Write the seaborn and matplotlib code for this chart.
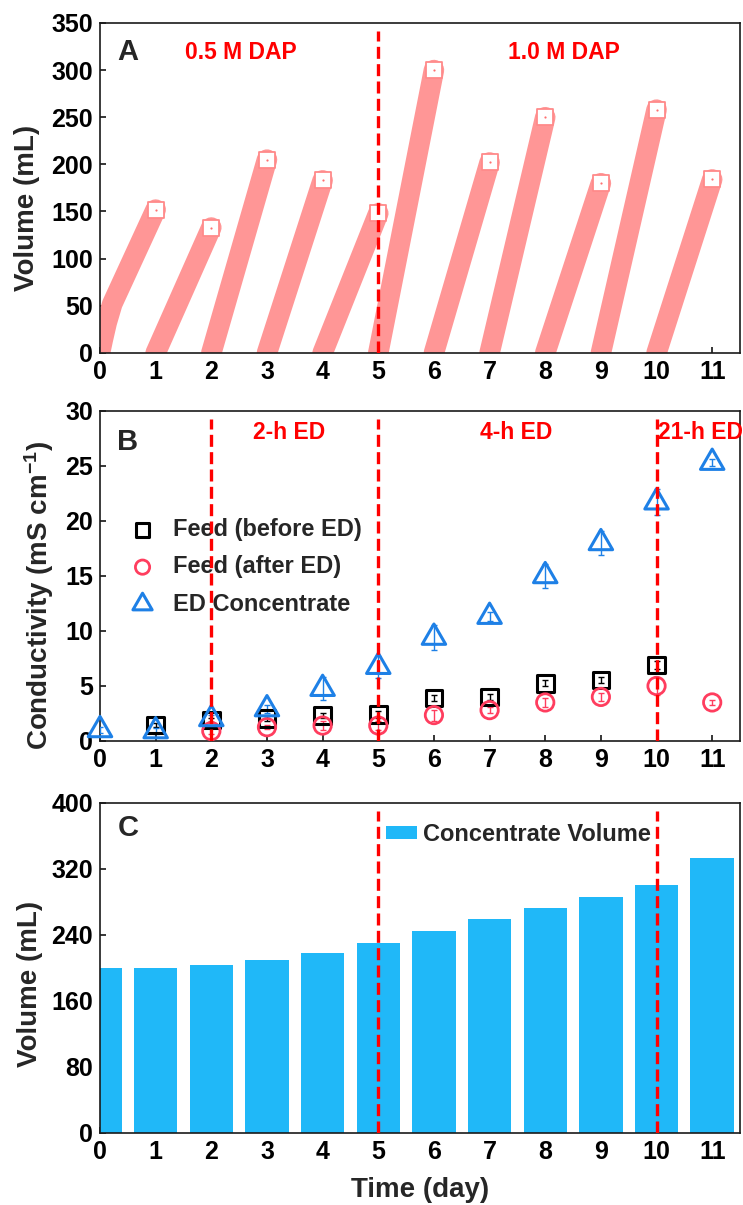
import numpy as np
import pandas as pd
import matplotlib
matplotlib.use("Agg")
import matplotlib.pyplot as plt
import seaborn as sns

# ---------------- data ----------------
days = list(range(12))

# A: feed volume, one filling cycle per day (start at 0 mL, end at the peak)
peak_days = [1, 2, 3, 4, 5, 6, 7, 8, 9, 10, 11]
peak_volume = [152, 133, 205, 183, 148, 300, 202, 250, 180, 258, 184]
# early readings of the first cycle (faster initial filling)
ramp_days = [0.0, 0.05, 0.12, 0.22]
ramp_volume = [0, 14, 32, 52]

# B: conductivity (mS/cm)
before_days = [1, 2, 3, 4, 5, 6, 7, 8, 9, 10]
feed_before = [1.45, 1.9, 2.05, 2.3, 2.4, 3.9, 4.0, 5.25, 5.55, 6.9]
feed_before_err = [0.2, 0.2, 0.2, 0.2, 0.3, 0.3, 0.3, 0.3, 0.3, 0.4]
after_days = [2, 3, 4, 5, 6, 7, 8, 9, 10, 11]
feed_after = [0.9, 1.25, 1.4, 1.4, 2.35, 2.8, 3.5, 4.0, 5.0, 3.5]
feed_after_err = [0.3, 0.2, 0.4, 0.4, 0.5, 0.3, 0.4, 0.4, 0.8, 0.2]
conc_days = days
concentrate = [1.0, 0.9, 2.0, 2.9, 4.75, 6.75, 9.4, 11.3, 15.0, 18.0, 21.7, 25.3]
concentrate_err = [0.3, 0.3, 0.4, 0.4, 1.05, 1.0, 1.15, 0.4, 1.1, 1.1, 1.2, 0.3]

# C: concentrate volume (mL)
conc_volume = [200, 200, 204, 210, 218, 230, 245, 259, 273, 286, 300, 333]

phase_lines_A = [5]
phase_lines_B = [2, 5, 10]
phase_lines_C = [5, 10]

# ---------------- style ----------------
sns.set_theme(style="ticks")
plt.rcParams["font.family"] = ["Liberation Sans", "DejaVu Sans"]
plt.rcParams.update({
    "font.weight": "bold",
    "axes.labelweight": "bold",
    "mathtext.fontset": "custom",
    "mathtext.rm": "Liberation Sans:bold",
    "mathtext.bf": "Liberation Sans:bold",
    "mathtext.it": "Liberation Sans:bold",
    "axes.linewidth": 1.2,
    "axes.edgecolor": "#1a1a1a",
    "xtick.direction": "in",
    "ytick.direction": "in",
    "xtick.major.size": 4.5,
    "ytick.major.size": 4.5,
    "xtick.major.width": 1.1,
    "ytick.major.width": 1.1,
    "xtick.major.pad": 5,
    "ytick.major.pad": 5,
    "xtick.labelsize": 18,
    "ytick.labelsize": 18,
    "xtick.color": "black",
    "ytick.color": "black",
})

RED = "#FF0000"
BAND = "#FF9696"
BLUE_BAR = "#20B8F8"
C_SQ = "#000000"
C_CI = "#FF3D5E"
C_TR = "#1E80E6"

fig = plt.figure(figsize=(7.43, 12.05), dpi=100)
L, W, H = 0.1346, 0.8614, 0.2739
axA = fig.add_axes([L, 0.7071, W, H])
axB = fig.add_axes([L, 0.3851, W, H])
axC = fig.add_axes([L, 0.0598, W, H])


def phase_line(ax, x):
    ax.axvline(x, ymin=0, ymax=0.974, color=RED, lw=2.4, dashes=(3.6, 1.6), zorder=6)


def frame(ax):
    for s in ax.spines.values():
        s.set_visible(True)
        s.set_linewidth(1.2)
    ax.set_xlim(0, 11.5)
    ax.set_xticks(days)
    ax.tick_params(top=False, right=False)


# ---------------- A ----------------
rows = []
for i, (d, v) in enumerate(zip(peak_days, peak_volume)):
    if i == 0:
        for rd, rv in zip(ramp_days, ramp_volume):
            rows.append((i, rd, rv))
    else:
        rows.append((i, d - 1, 0))
    rows.append((i, d, v))
band = pd.DataFrame(rows, columns=["cycle", "day", "volume"])

sns.lineplot(data=band, x="day", y="volume", units="cycle", estimator=None,
             color=BAND, linewidth=14.8, solid_capstyle="round", solid_joinstyle="round",
             sort=False, legend=False, ax=axA, zorder=2)
sns.scatterplot(x=peak_days, y=peak_volume, marker="s", s=11 ** 2,
                color="white", edgecolor="#FF8A8A", linewidth=1.3, ax=axA, zorder=3)
sns.scatterplot(x=peak_days, y=peak_volume, marker="o", s=2.5,
                color="#FF6F6F", linewidth=0, ax=axA, zorder=4)
for x in phase_lines_A:
    phase_line(axA, x)
frame(axA)
axA.set_ylim(0, 350)
axA.set_yticks(range(0, 351, 50))
axA.set_xlabel("")
axA.set_ylabel("Volume (mL)", fontsize=20)
axA.yaxis.set_label_coords(-0.094, 0.44)
axA.text(0.31, 319, "A", fontsize=21, fontweight="bold", va="center", ha="left")
axA.text(2.53, 319, "0.5 M DAP", fontsize=16.5, fontweight="bold", color=RED,
         va="center", ha="center")
axA.text(8.34, 319, "1.0 M DAP", fontsize=16.5, fontweight="bold", color=RED,
         va="center", ha="center")

# ---------------- B ----------------
series = [
    (before_days, feed_before, feed_before_err, "s", 12, C_SQ, 2.2, "Feed (before ED)"),
    (after_days, feed_after, feed_after_err, "o", 12.5, C_CI, 2.0, "Feed (after ED)"),
    (conc_days, concentrate, concentrate_err, (3, 0, 0), 19.5, C_TR, 2.2, "ED Concentrate"),
]
for x, y, e, mk, ms, col, mew, lab in series:
    axB.errorbar(x, y, yerr=e, fmt="none", ecolor=col, elinewidth=1.0,
                 capsize=2.5, capthick=1.0, zorder=3)
    sns.scatterplot(x=x, y=y, marker=mk, s=ms ** 2, color=col, facecolor="none",
                    edgecolor=col, linewidth=mew, label=lab, ax=axB, zorder=4,
                    clip_on=False)
for x in phase_lines_B:
    phase_line(axB, x)
frame(axB)
axB.set_ylim(0, 30)
axB.set_yticks(range(0, 31, 5))
axB.set_xlabel("")
axB.set_ylabel(r"Conductivity (mS cm$^{-1}$)", fontsize=20)
axB.yaxis.set_label_coords(-0.069, 0.44)
axB.text(0.31, 27.2, "B", fontsize=21, fontweight="bold", va="center", ha="left")
axB.text(3.4, 28.0, "2-h ED", fontsize=16.5, fontweight="bold", color=RED,
         va="center", ha="center")
axB.text(7.48, 28.0, "4-h ED", fontsize=16.5, fontweight="bold", color=RED,
         va="center", ha="center")
axB.text(10.03, 28.0, "21-h ED", fontsize=16.5, fontweight="bold", color=RED,
         va="center", ha="left", clip_on=False)
axB.legend(loc="upper left", bbox_to_anchor=(0.048, 0.675), frameon=False,
           borderpad=0, borderaxespad=0, handlelength=1.0, handletextpad=0.78,
           labelspacing=0.6, markerscale=0.82, fontsize=17)

# ---------------- C ----------------
sns.barplot(x=days, y=conc_volume, native_scale=True, width=0.78, color=BLUE_BAR,
            saturation=1, linewidth=0, label="Concentrate Volume", ax=axC, zorder=2)
for x in phase_lines_C:
    phase_line(axC, x)
frame(axC)
axC.set_ylim(0, 400)
axC.set_yticks(range(0, 401, 80))
axC.set_xticks(days)
axC.set_xticklabels([str(d) for d in days])
axC.set_ylabel("Volume (mL)", fontsize=20)
axC.set_xlabel("Time (day)", fontsize=20)
axC.yaxis.set_label_coords(-0.089, 0.45)
axC.xaxis.set_label_coords(0.5, -0.135)
axC.text(0.31, 370, "C", fontsize=21, fontweight="bold", va="center", ha="left")
axC.legend(loc="upper left", bbox_to_anchor=(0.447, 0.94), frameon=False,
           borderpad=0, borderaxespad=0, handlelength=1.3, handleheight=0.5,
           handletextpad=0.25, fontsize=17)

fig.savefig("out.png", dpi=100)
